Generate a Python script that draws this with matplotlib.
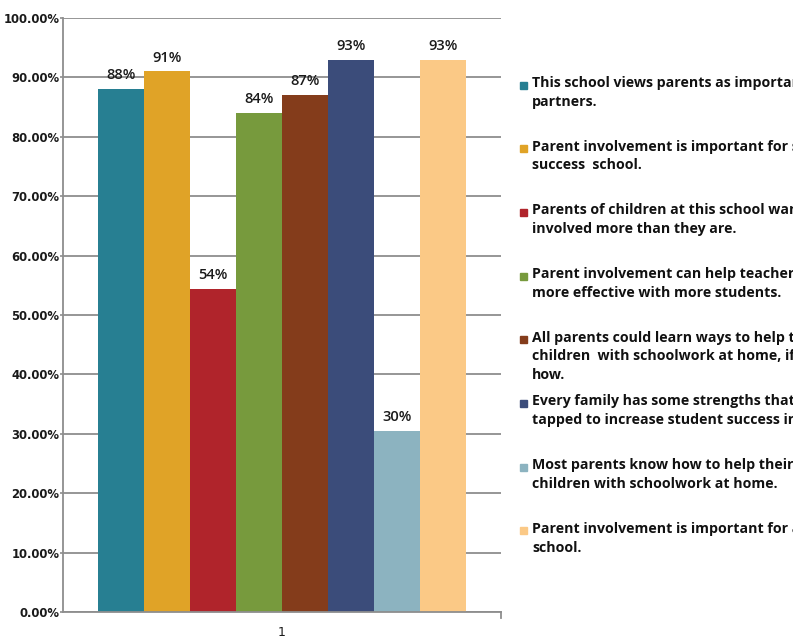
import matplotlib
matplotlib.use("Agg")
import matplotlib.pyplot as plt
from matplotlib.patches import Rectangle
import numpy as np

# survey statements and share of "agree" answers
statements = [
    "This school views parents as important\npartners.",
    "Parent involvement is important for student\nsuccess  school.",
    "Parents of children at this school want to be\ninvolved more than they are.",
    "Parent involvement can help teachers be\nmore effective with more students.",
    "All parents could learn ways to help their\nchildren  with schoolwork at home, if shown\nhow.",
    "Every family has some strengths that can be\ntapped to increase student success in school.",
    "Most parents know how to help their\nchildren with schoolwork at home.",
    "Parent involvement is important for a good\nschool.",
]
values = [0.88, 0.91, 0.544, 0.84, 0.87, 0.93, 0.305, 0.93]
bar_labels = ["88%", "91%", "54%", "84%", "87%", "93%", "30%", "93%"]
colors = ["#277f92", "#e0a327", "#b0242b", "#779a3d",
          "#843c1b", "#3b4c7a", "#8cb3c0", "#fbc986"]
category = ["1"]

grid_col = "#8e8e8e"

fig = plt.figure(figsize=(7.93, 6.38), dpi=100)
ax = fig.add_axes([63/793, 26/638, 438/793, 594/638])

n = len(values)
w = 46/438
xs = (np.arange(n) - (n - 1)/2) * w
ax.bar(xs, values, width=w, color=colors, edgecolor="none", zorder=2)

for x, v, lab in zip(xs, values, bar_labels):
    ax.annotate(lab, (x, v), xytext=(0, 5), textcoords="offset points",
                ha="center", va="bottom", fontsize=10.5, family="Open Sans",
                fontweight="semibold", color="#1a1a1a")

ax.set_xlim(-0.5, 0.5)
ax.set_ylim(0, 1.0)
yt = np.arange(0, 1.01, 0.1)
ax.set_yticks(yt)
ax.set_yticklabels(["%.2f%%" % (t*100) for t in yt], fontsize=8.4,
                   fontweight="bold", color="#1a1a1a")
ax.set_xticks([0])
ax.set_xticklabels(category, fontsize=9, color="#1a1a1a")
ax.tick_params(axis="y", length=2, width=1.2, color=grid_col, pad=0.5)
ax.tick_params(axis="x", length=0, pad=10)
ax.yaxis.grid(True, color=grid_col, linewidth=1.3, zorder=0)
ax.set_axisbelow(True)
for s in ["top", "right"]:
    ax.spines[s].set_visible(False)
for s in ["left", "bottom"]:
    ax.spines[s].set_color(grid_col)
    ax.spines[s].set_linewidth(1.3)
# small end tick at the right of the category axis
ax.plot([0.5, 0.5], [0, -0.01], color=grid_col, lw=1.3, clip_on=False)

# legend drawn as text blocks on the right
top = 85
step = 63.7
for i, (txt, c) in enumerate(zip(statements, colors)):
    yf = 1 - (top + i*step)/638
    fig.patches.append(Rectangle((520/793, yf - 3.5/638), 7/793, 7/638,
                                 transform=fig.transFigure, color=c))
    fig.text(532/793, yf + 9/638, txt, ha="left", va="top", fontsize=10.2,
             family="Open Sans", fontweight="bold", color="#111111",
             linespacing=1.42)

fig.savefig("out.png", dpi=100)
